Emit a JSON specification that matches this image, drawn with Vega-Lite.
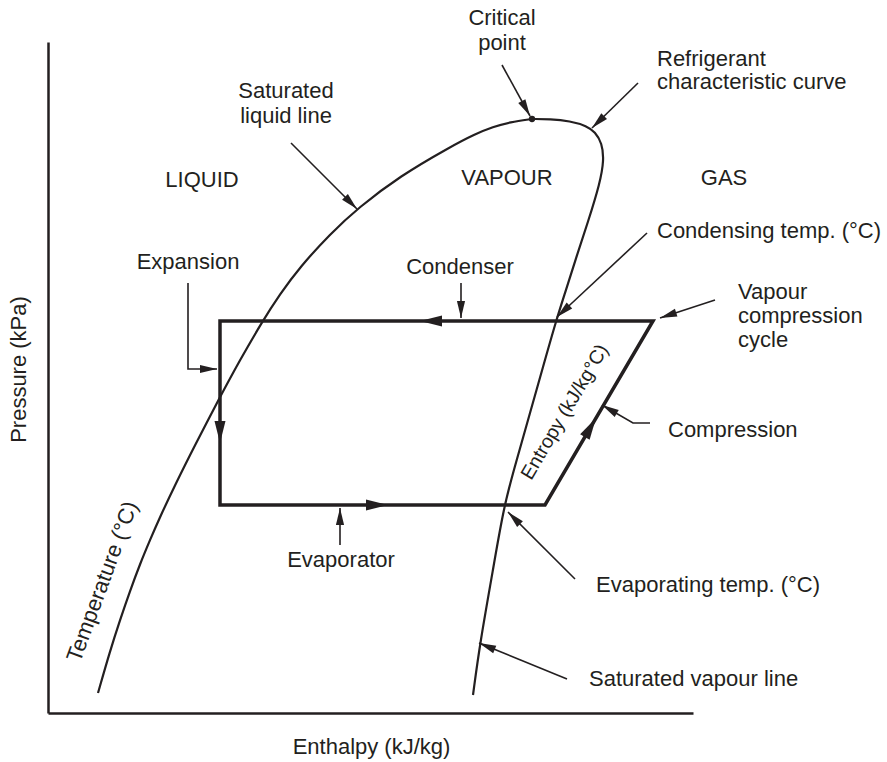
{
  "$schema": "https://vega.github.io/schema/vega-lite/v6.json",
  "width": 645,
  "height": 671,
  "autosize": {"type": "none"},
  "padding": {"left": 48, "top": 42, "right": 194, "bottom": 49},
  "background": "white",
  "config": {
    "view": {"stroke": null},
    "axis": {
      "domainColor": "#231f20",
      "domainWidth": 2.5,
      "ticks": false,
      "labels": false,
      "grid": false,
      "titleFont": "Liberation Sans",
      "titleFontSize": 22,
      "titleFontWeight": "normal",
      "titleColor": "#231f20"
    }
  },
  "datasets": {
    "liquid": [
      {"h": 50, "p": 20}, {"h": 62, "p": 62}, {"h": 72, "p": 93}, {"h": 82, "p": 122},
      {"h": 92, "p": 149}, {"h": 102, "p": 173}, {"h": 112, "p": 196}, {"h": 127, "p": 228},
      {"h": 147, "p": 268}, {"h": 172, "p": 316}, {"h": 192, "p": 353}, {"h": 214, "p": 391},
      {"h": 232, "p": 419}, {"h": 252, "p": 446}, {"h": 282, "p": 479}, {"h": 310, "p": 505},
      {"h": 352, "p": 537}, {"h": 402, "p": 566}, {"h": 427, "p": 579}, {"h": 445, "p": 586},
      {"h": 462, "p": 591}, {"h": 484, "p": 594}
    ],
    "vapour": [
      {"h": 484, "p": 594, "o": 1}, {"h": 502, "p": 594, "o": 2}, {"h": 522, "p": 592, "o": 3},
      {"h": 539, "p": 587, "o": 4}, {"h": 547, "p": 581, "o": 5}, {"h": 554, "p": 570, "o": 6},
      {"h": 556, "p": 553, "o": 7}, {"h": 552, "p": 530, "o": 8}, {"h": 540, "p": 491, "o": 9},
      {"h": 528, "p": 455, "o": 10}, {"h": 518, "p": 423, "o": 11}, {"h": 508, "p": 392, "o": 12},
      {"h": 495, "p": 346, "o": 13}, {"h": 482, "p": 300, "o": 14}, {"h": 469, "p": 254, "o": 15},
      {"h": 456, "p": 208, "o": 16}, {"h": 445, "p": 143, "o": 17}, {"h": 432, "p": 70, "o": 18},
      {"h": 425, "p": 18, "o": 19}
    ],
    "cycle": [
      {"h": 172, "p": 392, "o": 1}, {"h": 605, "p": 392, "o": 2}, {"h": 497, "p": 208, "o": 3},
      {"h": 172, "p": 208, "o": 4}, {"h": 172, "p": 392, "o": 5}
    ],
    "leaders": [
      {"id": "satliq", "h": 243, "p": 570, "o": 1}, {"id": "satliq", "h": 309, "p": 504, "o": 2},
      {"id": "crit", "h": 454, "p": 648, "o": 1}, {"id": "crit", "h": 482, "p": 597, "o": 2},
      {"id": "refr", "h": 590, "p": 630, "o": 1}, {"id": "refr", "h": 544, "p": 585, "o": 2},
      {"id": "cond", "h": 599, "p": 480, "o": 1}, {"id": "cond", "h": 509, "p": 396, "o": 2},
      {"id": "condenser", "h": 413, "p": 430, "o": 1}, {"id": "condenser", "h": 413, "p": 395, "o": 2},
      {"id": "vcc", "h": 667, "p": 413, "o": 1}, {"id": "vcc", "h": 612, "p": 395, "o": 2},
      {"id": "exp", "h": 140, "p": 430, "o": 1}, {"id": "exp", "h": 140, "p": 344, "o": 2}, {"id": "exp", "h": 169, "p": 344, "o": 3},
      {"id": "evap", "h": 292, "p": 168, "o": 1}, {"id": "evap", "h": 292, "p": 205, "o": 2},
      {"id": "comp", "h": 602, "p": 290, "o": 1}, {"id": "comp", "h": 585, "p": 290, "o": 2}, {"id": "comp", "h": 554, "p": 308, "o": 3},
      {"id": "evt", "h": 527, "p": 134, "o": 1}, {"id": "evt", "h": 460, "p": 201, "o": 2},
      {"id": "satvap", "h": 519, "p": 34, "o": 1}, {"id": "satvap", "h": 431, "p": 70, "o": 2}
    ],
    "cycleHeads": [
      {"h": 372, "p": 392, "dir": 180},
      {"h": 172, "p": 270, "dir": 90},
      {"h": 340, "p": 208, "dir": 0},
      {"h": 548, "p": 295, "dir": -59.6}
    ],
    "noteHeads": [
      {"h": 309, "p": 504, "dir": 45},
      {"h": 482, "p": 597, "dir": 61.2},
      {"h": 544, "p": 585, "dir": 135.6},
      {"h": 509, "p": 396, "dir": 137},
      {"h": 413, "p": 395, "dir": 90},
      {"h": 612, "p": 395, "dir": 161.9},
      {"h": 169, "p": 344, "dir": 0},
      {"h": 292, "p": 205, "dir": -90},
      {"h": 554, "p": 308, "dir": -149.9},
      {"h": 460, "p": 201, "dir": -135},
      {"h": 431, "p": 70, "dir": -157.7}
    ],
    "labelsCenter": [
      {"t": "Critical", "h": 454, "p": 688},
      {"t": "point", "h": 454, "p": 663},
      {"t": "Saturated", "h": 238, "p": 615},
      {"t": "liquid line", "h": 238, "p": 590},
      {"t": "LIQUID", "h": 154, "p": 526},
      {"t": "VAPOUR", "h": 459, "p": 528},
      {"t": "GAS", "h": 676, "p": 528},
      {"t": "Expansion", "h": 140, "p": 444},
      {"t": "Condenser", "h": 412, "p": 439},
      {"t": "Evaporator", "h": 293, "p": 146}
    ],
    "labelsLeft": [
      {"t": "Refrigerant", "h": 609, "p": 647},
      {"t": "characteristic curve", "h": 609, "p": 624},
      {"t": "Condensing temp. (°C)", "h": 609, "p": 475},
      {"t": "Vapour", "h": 690, "p": 414},
      {"t": "compression", "h": 690, "p": 390},
      {"t": "cycle", "h": 690, "p": 366},
      {"t": "Compression", "h": 620, "p": 276},
      {"t": "Evaporating temp. (°C)", "h": 548, "p": 121},
      {"t": "Saturated vapour line", "h": 541, "p": 27}
    ]
  },
  "encoding": {
    "x": {
      "field": "h",
      "type": "quantitative",
      "scale": {"domain": [0, 645], "nice": false, "zero": false},
      "axis": {"title": "Enthalpy (kJ/kg)", "titleX": 323, "titleY": 40, "titleAlign": "center", "titleBaseline": "alphabetic"}
    },
    "y": {
      "field": "p",
      "type": "quantitative",
      "scale": {"domain": [0, 671], "nice": false, "zero": false},
      "axis": {"title": "Pressure (kPa)", "titleX": -23, "titleY": 327, "titleAngle": -90, "titleAlign": "center", "titleBaseline": "alphabetic"}
    }
  },
  "layer": [
    {
      "data": {"name": "liquid"},
      "mark": {"type": "line", "interpolate": "basis", "color": "#231f20", "strokeWidth": 2.2}
    },
    {
      "data": {"name": "vapour"},
      "mark": {"type": "line", "interpolate": "basis", "color": "#231f20", "strokeWidth": 2.2},
      "encoding": {"order": {"field": "o", "type": "quantitative"}}
    },
    {
      "data": {"name": "cycle"},
      "mark": {"type": "line", "color": "#231f20", "strokeWidth": 3.5, "strokeJoin": "miter", "strokeCap": "square"},
      "encoding": {"order": {"field": "o", "type": "quantitative"}}
    },
    {
      "data": {"name": "leaders"},
      "mark": {"type": "line", "color": "#231f20", "strokeWidth": 1.6},
      "encoding": {
        "detail": {"field": "id", "type": "nominal"},
        "order": {"field": "o", "type": "quantitative"}
      }
    },
    {
      "data": {"name": "cycleHeads"},
      "mark": {"type": "point", "shape": "M0,0L-2,-0.5L-2,0.5Z", "filled": true, "size": 484, "color": "#231f20", "opacity": 1, "strokeWidth": 0},
      "encoding": {"angle": {"field": "dir", "type": "quantitative", "scale": null}}
    },
    {
      "data": {"name": "noteHeads"},
      "mark": {"type": "point", "shape": "M0,0L-2,-0.48L-2,0.48Z", "filled": true, "size": 289, "color": "#231f20", "opacity": 1, "strokeWidth": 0},
      "encoding": {"angle": {"field": "dir", "type": "quantitative", "scale": null}}
    },
    {
      "data": {"values": [{"h": 484, "p": 594}]},
      "mark": {"type": "circle", "size": 40, "color": "#231f20", "opacity": 1}
    },
    {
      "data": {"name": "labelsCenter"},
      "mark": {"type": "text", "align": "center", "baseline": "alphabetic", "font": "Liberation Sans", "fontSize": 22, "color": "#231f20"},
      "encoding": {"text": {"field": "t", "type": "nominal"}}
    },
    {
      "data": {"name": "labelsLeft"},
      "mark": {"type": "text", "align": "left", "baseline": "alphabetic", "font": "Liberation Sans", "fontSize": 22, "color": "#231f20"},
      "encoding": {"text": {"field": "t", "type": "nominal"}}
    },
    {
      "data": {"values": [{"t": "Temperature (°C)", "h": 61, "p": 129}]},
      "mark": {"type": "text", "align": "center", "baseline": "alphabetic", "angle": -70, "font": "Liberation Sans", "fontSize": 22, "color": "#231f20"},
      "encoding": {"text": {"field": "t", "type": "nominal"}}
    },
    {
      "data": {"values": [{"t": "Entropy (kJ/kg°C)", "h": 522, "p": 298}]},
      "mark": {"type": "text", "align": "center", "baseline": "alphabetic", "angle": -59.5, "font": "Liberation Sans", "fontSize": 19.5, "color": "#231f20"},
      "encoding": {"text": {"field": "t", "type": "nominal"}}
    }
  ]
}
